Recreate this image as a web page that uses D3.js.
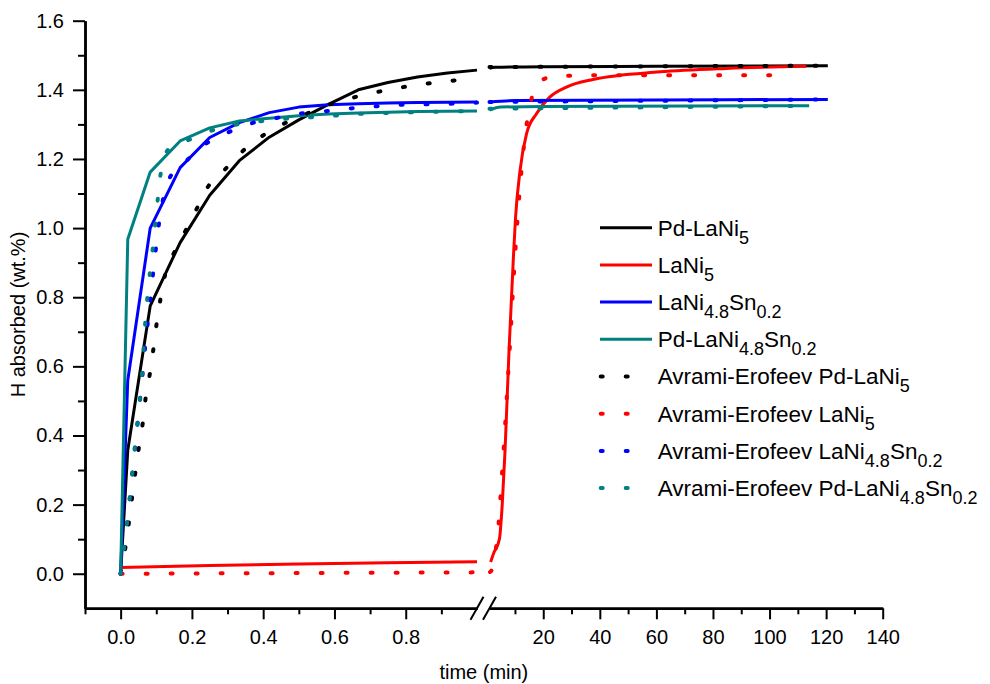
<!DOCTYPE html>
<html>
<head>
<meta charset="utf-8">
<script src="https://cdn.jsdelivr.net/npm/d3@7"></script>
<style>
    body { margin: 0; background: #fff; }
    svg text { font-family: "Liberation Sans", Arial, sans-serif; fill: #000; }
    .axis path, .axis line { stroke: #000; }
</style>
</head>
<body>
<div id="graphDiv"></div>
<script>
// ---- data (time in min, H absorbed in wt.%) ----
// left panel: 0 - 1 min, right panel: 1 - 140 min
var pdLaNi5Left = [[0, 0], [0.02, 0.357], [0.083, 0.775], [0.167, 0.958], [0.25, 1.095], [0.333, 1.195],
    [0.417, 1.263], [0.5, 1.313], [0.583, 1.358], [0.667, 1.4], [0.75, 1.421], [0.833, 1.437], [0.917, 1.449], [1.0, 1.457]];
var pdLaNi5Right = [[1, 1.462], [3, 1.465], [20, 1.467], [60, 1.468], [120.6, 1.47]];

var laNi5Left = [[0, 0.018], [0.25, 0.024], [0.5, 0.028], [0.75, 0.032], [1.0, 0.035]];
var laNi5Right = [[1.4, 0.034], [2.5, 0.06], [4.5, 0.1], [5.5, 0.2], [6.5, 0.357], [7.9, 0.646], [9.4, 0.907],
    [10.2, 1.03], [11.8, 1.167], [14.1, 1.273], [17.6, 1.331], [22.3, 1.379], [28.2, 1.408], [37.6, 1.43],
    [61.2, 1.452], [84.7, 1.462], [113, 1.468]];

var laNiSnLeft = [[0, 0], [0.02, 0.56], [0.083, 1.0], [0.167, 1.175], [0.25, 1.262], [0.333, 1.305], [0.417, 1.334],
    [0.5, 1.35], [0.583, 1.357], [0.667, 1.36], [0.75, 1.362], [0.833, 1.363], [0.917, 1.364], [1.0, 1.365]];
var laNiSnRight = [[1, 1.365], [10, 1.369], [120.6, 1.372]];

var pdLaNiSnLeft = [[0, 0], [0.02, 0.968], [0.083, 1.162], [0.167, 1.252], [0.25, 1.29], [0.333, 1.31], [0.417, 1.318],
    [0.5, 1.325], [0.583, 1.33], [0.667, 1.333], [0.75, 1.335], [0.833, 1.337], [0.917, 1.338], [1.0, 1.339]];
var pdLaNiSnRight = [[1, 1.341], [5, 1.35], [20, 1.352], [114, 1.354]];

// Avrami-Erofeev fits
var fitPdLaNi5Left = [[0, 0], [0.013, 0.074], [0.041, 0.291], [0.051, 0.364], [0.062, 0.436], [0.07, 0.508],
    [0.082, 0.579], [0.092, 0.651], [0.101, 0.724], [0.112, 0.796], [0.125, 0.866], [0.151, 0.931], [0.183, 0.994],
    [0.216, 1.061], [0.246, 1.121], [0.295, 1.172], [0.345, 1.225], [0.404, 1.271], [0.468, 1.307], [0.533, 1.336],
    [0.598, 1.362], [0.666, 1.381], [0.736, 1.397], [0.805, 1.41], [0.875, 1.42], [0.945, 1.428], [1.0, 1.433]];
var fitPdLaNi5Right = [[1, 1.466], [120, 1.47]];

var fitLaNi5Left = [[0, 0], [0.5, 0.002], [1.0, 0.004]];
var fitLaNi5Right = [[1.2, 0.005], [2, 0.015], [3, 0.06], [3.8, 0.106], [5.1, 0.25], [6.3, 0.4], [7.4, 0.55],
    [8.5, 0.7], [9.5, 0.85], [10.7, 1.0], [11.8, 1.12], [12.6, 1.19], [13.5, 1.264], [14.9, 1.336], [17, 1.405],
    [19.9, 1.43], [24.7, 1.44], [40, 1.442], [107, 1.442]];

var fitLaNiSnLeft = [[0, 0], [0.02, 0.165], [0.04, 0.36], [0.06, 0.56], [0.07, 0.67], [0.08, 0.76], [0.09, 0.86],
    [0.1, 0.95], [0.11, 1.03], [0.12, 1.088], [0.135, 1.14], [0.18, 1.19], [0.234, 1.24], [0.298, 1.275],
    [0.363, 1.302], [0.43, 1.317], [0.503, 1.331], [0.573, 1.338], [0.643, 1.346], [0.713, 1.352], [0.785, 1.357],
    [0.855, 1.358], [0.924, 1.36], [1.0, 1.363]];
var fitLaNiSnRight = [[1, 1.365], [120, 1.372]];

var fitPdLaNiSnLeft = [[0, 0], [0.02, 0.165], [0.04, 0.37], [0.06, 0.58], [0.07, 0.74], [0.08, 0.85], [0.09, 0.94],
    [0.1, 1.04], [0.11, 1.14], [0.127, 1.217], [0.15, 1.24], [0.188, 1.254], [0.258, 1.283], [0.328, 1.3],
    [0.4, 1.31], [0.47, 1.317], [0.54, 1.321], [0.61, 1.326], [0.68, 1.331], [0.75, 1.333], [0.82, 1.335],
    [0.9, 1.337], [1.0, 1.339]];
var fitPdLaNiSnRight = [[1, 1.345], [114, 1.354]];

// labels (_{..} marks a subscript) and colours
var seriesNames = ["Pd-LaNi_{5}", "LaNi_{5}", "LaNi_{4.8}Sn_{0.2}", "Pd-LaNi_{4.8}Sn_{0.2}"];
var fitPrefix = "Avrami-Erofeev ";
var colors = ["#000000", "#ff0000", "#0000ff", "#008080"];

// tick values
var xLeftMajor = [0, 0.2, 0.4, 0.6, 0.8],
    xLeftMinor = [-0.1, 0.1, 0.3, 0.5, 0.7, 0.9],
    xRightMajor = [20, 40, 60, 80, 100, 120, 140],
    xRightMinor = [10, 30, 50, 70, 90, 110, 130],
    yMajor = [0, 0.2, 0.4, 0.6, 0.8, 1.0, 1.2, 1.4, 1.6],
    yMinor = [0.1, 0.3, 0.5, 0.7, 0.9, 1.1, 1.3, 1.5];

var measured = [[pdLaNi5Left, pdLaNi5Right], [laNi5Left, laNi5Right], [laNiSnLeft, laNiSnRight], [pdLaNiSnLeft, pdLaNiSnRight]];
var fitted = [[fitPdLaNi5Left, fitPdLaNi5Right], [fitLaNi5Left, fitLaNi5Right], [fitLaNiSnLeft, fitLaNiSnRight], [fitPdLaNiSnLeft, fitPdLaNiSnRight]];

var W = 990, H = 684;

var svg = d3.select("#graphDiv").append("svg")
    .attr("width", W)
    .attr("height", H);

// scales: broken x axis
var yScale = d3.scaleLinear().domain([-0.1, 1.6]).range([608.3, 20.7]);
var xLeft = d3.scaleLinear().domain([-0.1, 1.0]).range([85, 477]);
var xRight = d3.scaleLinear().domain([1, 140]).range([489.5, 882.7]);
var axisY = yScale(-0.1);

// --- axes ---
function styleAxis(g, width) {
    g.select(".domain").attr("stroke-width", 2.5);
    g.selectAll(".tick line").attr("stroke-width", width);
    g.selectAll(".tick text").style("font-size", "20px");
}

var fmt = d3.format(".1f");

svg.append("g").attr("class", "axis")
    .attr("transform", "translate(0," + axisY + ")")
    .call(d3.axisBottom(xLeft).tickValues(xLeftMinor).tickSize(6).tickSizeOuter(0).tickFormat(""))
    .call(styleAxis, 2);
svg.append("g").attr("class", "axis")
    .attr("transform", "translate(0," + axisY + ")")
    .call(d3.axisBottom(xLeft).tickValues(xLeftMajor).tickSize(11).tickSizeOuter(0).tickPadding(11).tickFormat(fmt))
    .call(styleAxis, 2);

svg.append("g").attr("class", "axis")
    .attr("transform", "translate(0," + axisY + ")")
    .call(d3.axisBottom(xRight).tickValues(xRightMinor).tickSize(6).tickSizeOuter(0).tickFormat(""))
    .call(styleAxis, 2);
svg.append("g").attr("class", "axis")
    .attr("transform", "translate(0," + axisY + ")")
    .call(d3.axisBottom(xRight).tickValues(xRightMajor).tickSize(11).tickSizeOuter(0).tickPadding(11).tickFormat(d3.format("d")))
    .call(styleAxis, 2);

svg.append("g").attr("class", "axis")
    .attr("transform", "translate(" + xLeft(-0.1) + ",0)")
    .call(d3.axisLeft(yScale).tickValues(yMinor).tickSize(7).tickSizeOuter(0).tickFormat(""))
    .call(styleAxis, 2);
svg.append("g").attr("class", "axis")
    .attr("transform", "translate(" + xLeft(-0.1) + ",0)")
    .call(d3.axisLeft(yScale).tickValues(yMajor).tickSize(12).tickSizeOuter(0).tickPadding(9).tickFormat(fmt))
    .call(styleAxis, 2);

// break marks "//"
[xLeft(1.0), xRight(1)].forEach(function (bx) {
    svg.append("line")
        .attr("x1", bx - 6.5).attr("y1", axisY + 11.5)
        .attr("x2", bx + 6.5).attr("y2", axisY - 11.5)
        .attr("stroke", "#000").attr("stroke-width", 2);
});

// axis labels
svg.append("text")
    .attr("text-anchor", "middle")
    .attr("x", (xLeft(-0.1) + xRight(140)) / 2)
    .attr("y", 679)
    .style("font-size", "20px")
    .text("time (min)");
svg.append("text")
    .attr("text-anchor", "middle")
    .attr("transform", "translate(25," + ((yScale(-0.1) + yScale(1.6)) / 2) + ") rotate(-90)")
    .style("font-size", "20px")
    .text("H absorbed (wt.%)");

// --- lines ---
function lineFor(xs, curve) {
    return d3.line()
        .curve(curve)
        .x(function (d) { return xs(d[0]); })
        .y(function (d) { return yScale(d[1]); });
}

var lines = svg.append("g").attr("class", "lines").attr("fill", "none");

measured.forEach(function (s, i) {
    lines.append("path")
        .attr("d", lineFor(xLeft, d3.curveLinear)(s[0]))
        .attr("stroke", colors[i]).attr("stroke-width", 3).attr("stroke-linejoin", "round");
    lines.append("path")
        .attr("d", lineFor(xRight, d3.curveMonotoneX)(s[1]))
        .attr("stroke", colors[i]).attr("stroke-width", 3).attr("stroke-linejoin", "round");
});

fitted.forEach(function (s, i) {
    [[xLeft, s[0]], [xRight, s[1]]].forEach(function (p) {
        lines.append("path")
            .attr("d", lineFor(p[0], d3.curveMonotoneX)(p[1]))
            .attr("stroke", colors[i]).attr("stroke-width", 4)
            .attr("stroke-linecap", "round")
            .attr("stroke-dasharray", "2,23");
    });
});

// --- legend ---
function addLabel(sel, label) {
    // split "Pd-LaNi_{4.8}Sn_{0.2}" into normal / subscript pieces
    var parts = label.split(/(_\{[^}]*\})/).filter(function (p) { return p.length; });
    var shifted = false;
    parts.forEach(function (p) {
        if (p.indexOf("_{") === 0) {
            sel.append("tspan").attr("dy", 8).style("font-size", "18px").text(p.slice(2, -1));
            shifted = true;
        } else {
            sel.append("tspan").attr("dy", shifted ? -8 : 0).text(p);
            shifted = false;
        }
    });
}

var legend = svg.append("g").attr("transform", "translate(600,227.7)");
var rowH = 37.2;

seriesNames.forEach(function (name, i) {
    legend.append("line")
        .attr("x1", 0).attr("x2", 52)
        .attr("y1", i * rowH).attr("y2", i * rowH)
        .attr("stroke", colors[i]).attr("stroke-width", 3);
    var t = legend.append("text").attr("x", 57.7).attr("y", i * rowH + 8).style("font-size", "22.5px");
    addLabel(t, name);
});
seriesNames.forEach(function (name, i) {
    var yy = (i + 4) * rowH;
    legend.append("line")
        .attr("x1", 0.7).attr("x2", 28)
        .attr("y1", yy).attr("y2", yy)
        .attr("stroke", colors[i]).attr("stroke-width", 4)
        .attr("stroke-linecap", "round")
        .attr("stroke-dasharray", "2,23");
    var t = legend.append("text").attr("x", 57.7).attr("y", yy + 8).style("font-size", "22.5px");
    addLabel(t, fitPrefix + name);
});
</script>
</body>
</html>
